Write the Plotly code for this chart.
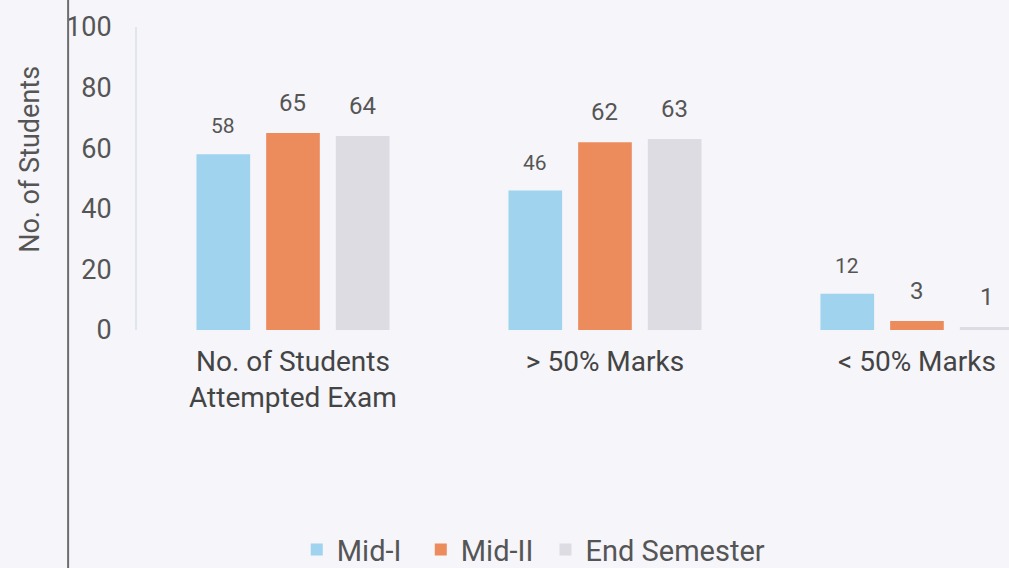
import plotly.graph_objects as go

categories = ["No. of Students<br>Attempted Exam", "> 50% Marks", "< 50% Marks"]
series_names = ["Mid-I", "Mid-II", "End Semester"]
mid1 = [58, 46, 12]
mid2 = [65, 62, 3]
endsem = [64, 63, 1]
colors = ["#9fd3ee", "#ec8b5c", "#dcdce2"]
label_sizes = [21, 24, 24]
y_ticks = [0, 20, 40, 60, 80, 100]

BARGAP = 0.33
GROUPGAP = 0.23
series = [mid1, mid2, endsem]
n = len(series)
slot = (1 - BARGAP) / n
legend_pad = ["\u00a0\u00a0", "\u00a0", ""]

fig = go.Figure()
for name, vals, col, pad in zip(series_names, series, colors, legend_pad):
    fig.add_trace(go.Bar(
        x=list(range(len(categories))), y=vals, name=name + pad,
        marker=dict(color=col, line=dict(width=0)),
        cliponaxis=False,
    ))

annotations = []
for k, (vals, fs) in enumerate(zip(series, label_sizes)):
    for i, v in enumerate(vals):
        annotations.append(dict(
            x=i + (k - (n - 1) / 2) * slot, y=v, xref="x", yref="y",
            text=str(v), showarrow=False, yanchor="bottom", yshift=14,
            font=dict(size=fs, color="#555555", family="Roboto"),
        ))
annotations.append(dict(
    x=-0.123, y=0.564, xref="paper", yref="paper", text="No. of Students",
    textangle=-90, showarrow=False, xanchor="center", yanchor="middle",
    font=dict(size=27, color="#555555", family="Roboto"),
))

fig.update_layout(
    width=1009, height=568,
    margin=dict(l=137, r=0, t=27, b=238, autoexpand=False),
    paper_bgcolor="#f5f5fa", plot_bgcolor="#f5f5fa",
    barmode="group", bargap=BARGAP, bargroupgap=GROUPGAP,
    font=dict(family="Roboto", color="#555555"),
    showlegend=True,
    annotations=annotations,
    legend=dict(orientation="h", x=0.455, y=-0.725, xanchor="center", yanchor="middle",
                font=dict(size=29, color="#555555"), bgcolor="rgba(0,0,0,0)",
                itemwidth=30, traceorder="normal"),
    xaxis=dict(range=[-0.5, 2.295], tickmode="array",
               tickvals=list(range(len(categories))), ticktext=categories,
               tickfont=dict(size=28, color="#444444"), showgrid=False,
               zeroline=False, showline=False, ticks="", ticklabelstandoff=12),
    yaxis=dict(range=[0, 100], tickvals=y_ticks, showgrid=False, zeroline=False,
               showline=True, linecolor="#dfe6ee", linewidth=2,
               tickfont=dict(size=27, color="#555555"), ticklabelstandoff=18),
)

fig.add_shape(type="line", xref="paper", yref="paper",
              x0=-0.079, x1=-0.079, y0=-1.0, y1=1.2,
              line=dict(color="#6e6e6e", width=2))

fig.write_html("out.html", config={"displayModeBar": False},
               post_script="document.body.style.margin='0';")
